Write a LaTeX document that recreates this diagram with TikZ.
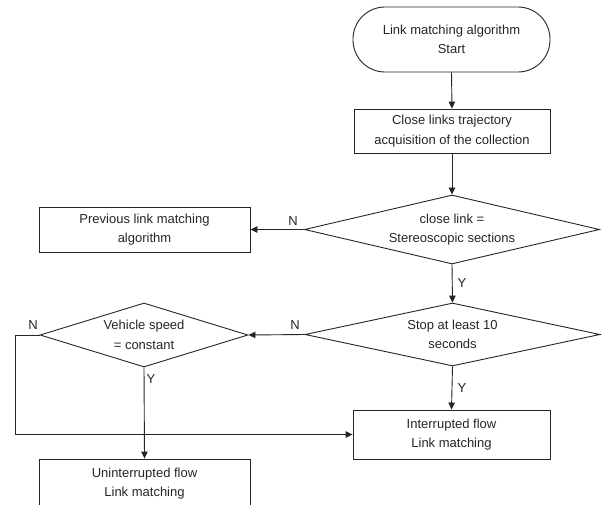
\documentclass[tikz,border=0pt]{standalone}
\usepackage{fontspec}
\setmainfont{Liberation Sans}
\usetikzlibrary{shapes.geometric,arrows.meta}
\begin{document}
\begin{tikzpicture}[x=1pt,y=-1pt,
  every node/.style={font=\fontsize{13}{19.5}\selectfont, text=black!85},
  line/.style={draw=black!85, line width=0.9pt},
  arr/.style={line, -{Triangle[length=7pt,width=6.5pt]}},
  proc/.style={line, rectangle, inner sep=0pt, align=center},
  term/.style={line, rectangle, rounded corners=32pt, inner sep=0pt, align=center},
  dec/.style={line, diamond, inner sep=0pt, align=center},
  lab/.style={inner sep=0pt, font=\fontsize{13}{15}\selectfont}
]
\useasboundingbox (0,0) rectangle (602,505);
\fill[white] (0,0) rectangle (602,505);
\begin{scope}
\clip (0,0) rectangle (602,505);
\node[term, minimum width=197pt, minimum height=65pt] (start) at (451.5,39.5) {Link matching algorithm\\Start};
\node[proc, minimum width=196pt, minimum height=44pt] (coll) at (452,131) {Close links trajectory\\acquisition of the collection};
\node[dec, aspect=4.28, minimum width=295pt, minimum height=69pt] (d1) at (452,229.5) {close link =\\Stereoscopic sections};
\node[proc, minimum width=211pt, minimum height=45pt] (prev) at (144.5,229.5) {Previous link matching\\algorithm};
\node[dec, aspect=4.68, minimum width=295pt, minimum height=63pt] (d3) at (452.5,334.5) {Stop at least 10\\seconds};
\node[dec, aspect=3.25, minimum width=208pt, minimum height=64pt] (d2) at (144,335) {Vehicle speed\\= constant};
\node[proc, minimum width=197pt, minimum height=49pt] (intr) at (451.5,434.5) {Interrupted flow\\Link matching};
\node[proc, minimum width=211pt, minimum height=49pt] (unin) at (144.5,483.5) {Uninterrupted flow\\Link matching};
\end{scope}

\draw[arr] (start.south) -- (coll.north);
\draw[arr] (coll.south) -- (d1.north);
\draw[arr] (d1.west) -- (prev.east);
\draw[arr] (d1.south) -- (d3.north);
\draw[arr] (d3.west) -- (d2.east);
\draw[arr] (d3.south) -- (intr.north);
\draw[arr] (d2.south) -- (unin.north);
\coordinate (bend) at (15,335);
\draw[arr] (d2.west) -- (bend) |- (intr.west);

\node[lab] (n1) at (293,221) {N};
\node[lab] (y1) at (462,283) {Y};
\node[lab] (n3) at (295,325) {N};
\node[lab] (y3) at (462,388) {Y};
\node[lab] (n2) at (33,325) {N};
\node[lab] (y2) at (151,379) {Y};
\end{tikzpicture}
\end{document}
